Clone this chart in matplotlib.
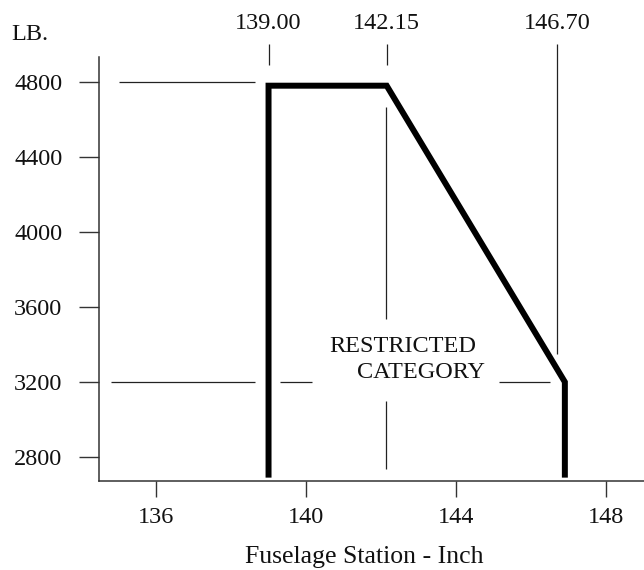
import matplotlib
matplotlib.use("Agg")
import matplotlib.pyplot as plt

# ---- data ----
env_x = [139.0, 139.0, 142.15, 146.9, 146.9]
env_y = [2690, 4780, 4780, 3200, 2690]

station_vals = [139.00, 142.15, 146.70]
station_labels = ["139.00", "142.15", "146.70"]

yticks = [2800, 3200, 3600, 4000, 4400, 4800]
xticks = [136, 140, 144, 148]

# thin reference line segments (x0, x1, y0, y1)
ref_segments = [
    (135.0, 138.65, 4800, 4800),
    (134.8, 138.65, 3200, 3200),
    (139.31, 140.16, 3200, 3200),
    (145.15, 146.51, 3200, 3200),
    (139.0, 139.0, 4891, 5003),
    (142.15, 142.15, 4891, 5003),
    (142.12, 142.12, 3536, 4667),
    (142.12, 142.12, 2736, 3099),
    (146.70, 146.70, 3349, 5003),
]

plt.rcParams['font.family'] = ['Liberation Serif', 'DejaVu Serif']

fig = plt.figure(figsize=(6.44, 5.70), dpi=100)
ax = fig.add_axes([99/644, 89/570, 1 - 99/644, (481-57)/570])

ax.set_xlim(134.48, 149.01)
ax.set_ylim(2672, 4933)

lc = '#222222'
for x0, x1, y0, y1 in ref_segments:
    ax.plot([x0, x1], [y0, y1], color=lc, lw=0.9, clip_on=False, solid_capstyle='butt')

ax.plot(env_x, env_y, color='black', lw=4.3, solid_joinstyle='miter', solid_capstyle='butt')

fs = 17.5
for xv, lab in zip(station_vals, station_labels):
    ax.text(xv, 5109, lab, ha='center', va='center', fontsize=fs, color='#111111', clip_on=False)

ax.text(142.59, 3387, "RESTRICTED", ha='center', va='center', fontsize=fs, color='#111111')
ax.text(143.07, 3253, "CATEGORY", ha='center', va='center', fontsize=fs, color='#111111')

fig.text(30/644, 1 - 35/570, "LB.", ha='center', va='center', fontsize=fs, color='#111111')
fig.text(364/644, 1 - 557/570, "Fuselage Station - Inch", ha='center', va='center',
         fontsize=18.5, color='#111111')

ax.set_xticks(xticks)
ax.set_yticks(yticks)
ax.set_xticklabels([str(v) for v in xticks])
ax.set_yticklabels([str(v) for v in yticks])

for s in ['top', 'right']:
    ax.spines[s].set_visible(False)
for s in ['left', 'bottom']:
    ax.spines[s].set_color('#333333')
    ax.spines[s].set_linewidth(1.1)

ax.tick_params(axis='y', direction='out', length=14.4, width=1.0, color='#333333',
               pad=12, labelsize=fs, labelcolor='#111111')
ax.tick_params(axis='x', direction='out', length=11.5, width=1.0, color='#333333',
               pad=7, labelsize=fs, labelcolor='#111111')

fig.savefig("out.png", dpi=100)
